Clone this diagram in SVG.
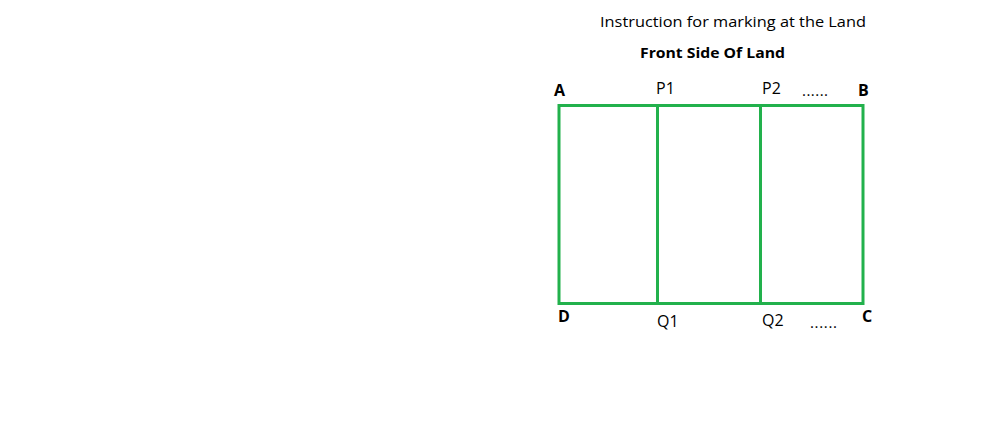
<svg xmlns="http://www.w3.org/2000/svg" width="991" height="441" viewBox="0 0 991 441">
<style>
text{font-family:"Open Sans","Liberation Sans",sans-serif;fill:#000;font-size:15px}
.b{font-weight:bold}
.l{font-size:16px}
.g{stroke:#22b14c;stroke-width:3;fill:none}
</style>
<rect width="991" height="441" fill="#fff"/>
<g id="titles">
<text x="600" y="27" textLength="266" lengthAdjust="spacingAndGlyphs" font-size="16">Instruction for marking at the Land</text>
<text class="b" x="640" y="58" textLength="145" lengthAdjust="spacingAndGlyphs">Front Side Of Land</text>
</g>
<g id="land">
<rect class="g" x="559" y="105.5" width="304" height="198"/>
</g>
<g id="connectors">
<line class="g" x1="657.5" y1="105.5" x2="657.5" y2="303.5"/>
<line class="g" x1="760.5" y1="105.5" x2="760.5" y2="303.5"/>
</g>
<g id="labels">
<text class="b l" x="554" y="96">A</text>
<text class="l" x="656" y="94">P1</text>
<text class="l" x="762" y="94">P2</text>
<text x="802" y="96" textLength="26">......</text>
<text class="b l" x="858" y="96">B</text>
<text class="b l" x="558" y="322">D</text>
<text class="l" x="657" y="327">Q1</text>
<text class="l" x="762" y="326">Q2</text>
<text x="810" y="328" textLength="27">......</text>
<text class="b l" x="862" y="322">C</text>
</g>
</svg>
